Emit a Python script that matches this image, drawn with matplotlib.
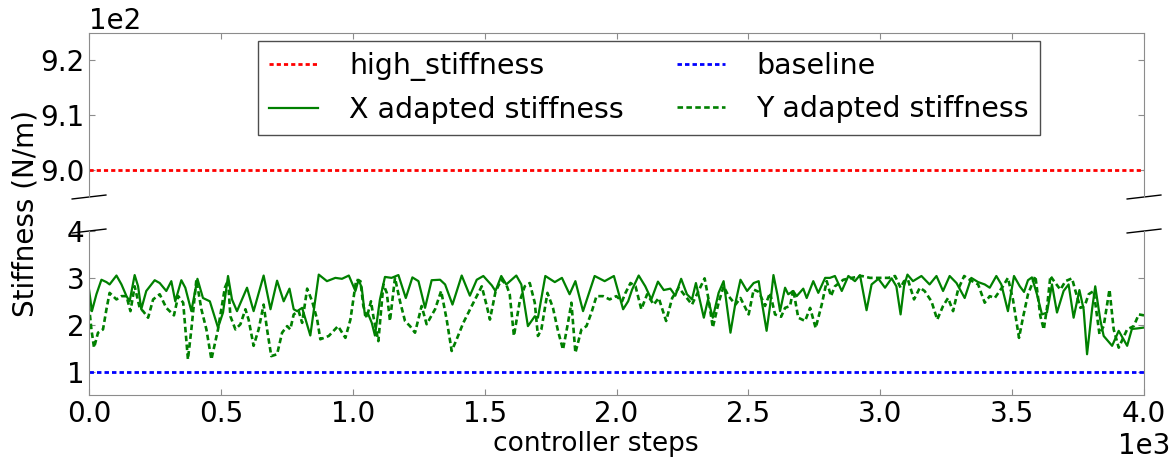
import numpy as np
import matplotlib
matplotlib.use('Agg')
import matplotlib.pyplot as plt
from matplotlib.ticker import MultipleLocator, ScalarFormatter

# stiffness values, in units of 1e2 N/m
steps_x = [0, 11, 28, 47, 66, 78, 104, 123, 142, 154, 173, 186, 198, 217, 249, 268, 293, 312, 327, 350,
           365, 388, 411, 432, 458, 489, 508, 527, 542, 561, 599, 624, 662, 688, 713, 738, 760, 776, 789, 808,
           839, 871, 902, 934, 959, 985, 1010, 1022, 1034, 1046, 1059, 1072, 1084, 1103, 1122, 1147, 1173, 1201,
           1226, 1249, 1274, 1299, 1331, 1350, 1378, 1413, 1444, 1470, 1495, 1527, 1541, 1563, 1582, 1620, 1639,
           1664, 1690, 1702, 1730, 1766, 1793, 1822, 1844, 1873, 1917, 1955, 1990, 2025, 2044, 2059, 2084, 2109,
           2132, 2157, 2179, 2204, 2223, 2245, 2267, 2286, 2301, 2314, 2331, 2347, 2365, 2387, 2406, 2432, 2451,
           2470, 2495, 2520, 2539, 2552, 2569, 2582, 2595, 2611, 2620, 2639, 2651, 2670, 2683, 2708, 2721, 2746,
           2765, 2791, 2809, 2828, 2854, 2879, 2904, 2923, 2948, 2967, 2993, 3018, 3043, 3061, 3077, 3090, 3103,
           3124, 3156, 3187, 3213, 3238, 3263, 3289, 3320, 3345, 3371, 3396, 3415, 3440, 3459, 3484, 3507, 3529,
           3545, 3560, 3575, 3594, 3613, 3632, 3651, 3670, 3695, 3714, 3733, 3755, 3771, 3784, 3803, 3815, 3834,
           3847, 3879, 3904, 3936, 3954, 3973, 4000]
stiff_x = [2.75, 2.29, 2.65, 2.96, 2.91, 2.86, 3.05, 2.86, 2.61, 2.5, 3.06, 2.82, 2.33, 2.72, 2.95, 2.89, 2.72,
           2.93, 2.5, 2.95, 2.79, 2.29, 2.98, 2.57, 2.5, 1.94, 2.26, 3.04, 2.54, 2.29, 2.79, 2.29, 3.05, 2.33,
           2.94, 2.5, 2.77, 2.33, 2.29, 2.36, 1.77, 3.07, 2.93, 3.0, 2.98, 3.05, 2.72, 2.96, 2.79, 2.2, 2.22,
           2.04, 1.77, 2.54, 3.02, 3.0, 3.06, 2.57, 3.01, 2.93, 2.36, 2.95, 2.96, 2.86, 2.43, 3.05, 2.62, 2.96,
           3.04, 2.84, 2.72, 3.04, 2.86, 3.05, 2.86, 1.97, 2.18, 2.15, 3.04, 2.91, 3.0, 2.65, 2.93, 2.29, 3.04,
           2.93, 3.04, 2.33, 2.5, 2.75, 3.05, 2.82, 2.54, 2.92, 2.74, 2.77, 2.62, 2.98, 2.65, 2.54, 2.89, 2.57,
           2.15, 2.54, 2.15, 2.68, 2.93, 1.83, 2.47, 2.96, 2.72, 2.89, 2.93, 2.45, 1.87, 2.4, 3.06, 2.61, 2.29,
           2.79, 2.65, 2.72, 2.61, 2.77, 2.57, 2.93, 2.68, 3.0, 3.0, 3.04, 2.72, 3.04, 2.93, 3.06, 2.31, 2.86,
           2.98, 2.79, 2.99, 2.82, 2.22, 2.82, 3.07, 2.93, 3.04, 2.86, 3.04, 2.72, 3.04, 2.89, 2.57, 3.0, 2.91,
           2.86, 2.79, 3.04, 2.86, 2.29, 3.04, 2.82, 2.7, 2.95, 3.01, 2.65, 2.22, 2.26, 2.86, 2.26, 2.72, 2.86,
           2.15, 2.74, 2.33, 1.37, 2.33, 2.82, 2.11, 1.76, 1.55, 1.87, 1.55, 1.91, 1.92, 1.94]

steps_y = [0, 9, 19, 34, 53, 66, 78, 104, 123, 142, 157, 173, 192, 205, 224, 243, 268, 293, 322, 338, 357,
           375, 388, 407, 426, 445, 464, 489, 515, 527, 536, 555, 574, 593, 605, 624, 643, 662, 675, 691, 713,
           732, 751, 763, 776, 795, 808, 827, 846, 865, 877, 909, 944, 972, 991, 1013, 1029, 1040, 1053, 1069,
           1078, 1097, 1116, 1129, 1141, 1160, 1179, 1198, 1217, 1236, 1261, 1280, 1312, 1335, 1356, 1375, 1394,
           1419, 1451, 1489, 1508, 1520, 1541, 1563, 1582, 1595, 1611, 1633, 1652, 1671, 1690, 1702, 1715, 1738,
           1759, 1778, 1797, 1816, 1829, 1844, 1867, 1886, 1905, 1924, 1949, 1974, 1999, 2021, 2034, 2053, 2072,
           2094, 2116, 2141, 2160, 2188, 2211, 2236, 2261, 2286, 2305, 2334, 2349, 2365, 2387, 2406, 2425, 2451,
           2470, 2501, 2520, 2540, 2563, 2582, 2601, 2624, 2639, 2658, 2670, 2689, 2715, 2734, 2755, 2778, 2797,
           2813, 2828, 2860, 2892, 2930, 2961, 2993, 3031, 3056, 3077, 3090, 3105, 3128, 3150, 3168, 3194, 3216,
           3238, 3257, 3276, 3295, 3318, 3339, 3371, 3396, 3415, 3434, 3465, 3484, 3503, 3526, 3541, 3560, 3588,
           3607, 3620, 3632, 3645, 3664, 3683, 3702, 3727, 3740, 3759, 3775, 3790, 3809, 3831, 3847, 3869, 3885,
           3904, 3936, 3961, 3980, 4000]
stiff_y = [2.4, 1.9, 1.51, 1.83, 1.9, 2.33, 2.68, 2.54, 2.61, 2.61, 2.29, 2.82, 2.36, 2.29, 2.15, 2.54, 2.65,
           2.36, 2.2, 2.61, 2.47, 1.26, 1.9, 2.96, 2.33, 1.9, 1.26, 1.9, 2.79, 2.95, 2.18, 1.9, 2.01, 2.33, 2.11,
           1.55, 1.9, 2.43, 1.9, 1.33, 1.37, 1.83, 1.97, 1.9, 2.22, 2.29, 2.04, 2.77, 2.5, 2.11, 1.69, 1.76, 1.97,
           1.72, 2.11, 2.96, 2.93, 2.4, 2.15, 2.5, 2.18, 1.65, 2.86, 2.68, 2.08, 3.0, 2.5, 2.08, 1.97, 1.83, 2.4,
           2.01, 2.33, 2.72, 2.11, 1.44, 1.69, 2.04, 2.4, 2.82, 2.4, 2.11, 2.7, 2.96, 2.86, 2.65, 1.76, 2.5, 2.82,
           2.89, 2.47, 1.76, 1.9, 2.68, 2.36, 1.87, 1.47, 2.04, 2.47, 1.4, 1.9, 1.97, 2.26, 2.61, 2.61, 2.54, 2.61,
           2.5, 2.68, 2.89, 2.82, 2.33, 2.65, 2.43, 2.57, 2.08, 2.57, 2.79, 2.61, 2.43, 2.65, 2.99, 2.54, 1.94,
           2.47, 2.82, 2.61, 2.43, 2.57, 2.22, 2.75, 2.7, 2.4, 2.68, 2.22, 2.17, 2.36, 2.4, 2.75, 2.15, 2.08, 2.36,
           1.93, 2.43, 2.93, 2.61, 2.82, 2.96, 3.0, 3.04, 3.0, 3.0, 3.0, 3.04, 2.79, 2.93, 2.96, 2.54, 2.79, 2.72,
           2.5, 2.11, 2.4, 2.57, 2.29, 2.75, 3.04, 2.96, 2.86, 2.47, 2.61, 2.57, 2.82, 3.0, 2.54, 1.72, 2.15, 2.65,
           3.04, 2.18, 1.9, 2.36, 3.04, 2.89, 2.75, 2.93, 2.99, 2.72, 2.36, 2.4, 2.65, 2.72, 1.8, 1.97, 2.75, 1.9,
           1.51, 1.9, 1.97, 2.22, 2.2]

high_stiffness = 900.0
baseline = 100.0

plt.rcParams['font.size'] = 20
plt.rcParams['lines.scale_dashes'] = False

fig = plt.figure(figsize=(11.73, 4.59), dpi=100)
ax_top = fig.add_axes([0.0759, 0.5708, 0.8994, 0.358])
ax_bot = fig.add_axes([0.0759, 0.1394, 0.8994, 0.3573], sharex=ax_top)

kx = np.array(stiff_x) * 100
ky = np.array(stiff_y) * 100

h_high = ax_top.axhline(high_stiffness, color='r', lw=2, dashes=(3, 2.2))
h_base = ax_bot.axhline(baseline, color='b', lw=2, dashes=(3.2, 2.2))
h_x, = ax_bot.plot(steps_x, kx, color='g', lw=1.6, solid_joinstyle='round')
h_y, = ax_bot.plot(steps_y, ky, color='g', lw=1.9, dashes=(4, 2.4), dash_joinstyle='round')

ax_top.set_ylim(895, 925)
ax_bot.set_ylim(50, 400)
ax_bot.set_xlim(0, 4000)

ax_top.yaxis.set_major_locator(MultipleLocator(10))
ax_bot.yaxis.set_major_locator(MultipleLocator(100))
ax_bot.xaxis.set_major_locator(MultipleLocator(500))

for ax in (ax_top, ax_bot):
    fmt = ScalarFormatter()
    fmt.set_powerlimits((2, 2))
    ax.yaxis.set_major_formatter(fmt)
    for s in ax.spines.values():
        s.set_color('0.55')
    ax.tick_params(direction='in', colors='0.55', labelcolor='k', length=4, labelsize=20,
                   left=True, right=True)

xfmt = ScalarFormatter()
xfmt.set_powerlimits((3, 3))
ax_bot.xaxis.set_major_formatter(xfmt)

ax_top.spines['bottom'].set_visible(False)
ax_bot.spines['top'].set_visible(False)
ax_top.tick_params(bottom=False, top=True, labelbottom=False)
ax_bot.tick_params(top=False, bottom=True)
ax_bot.yaxis.get_offset_text().set_visible(False)
ax_top.yaxis.get_offset_text().set_fontsize(20)
off_x = ax_bot.xaxis.get_offset_text()
off_x.set_fontsize(20)
off_x.set_horizontalalignment('center')

# break marks
d = 0.016
for ax, y in ((ax_top, 0), (ax_bot, 1)):
    kw = dict(transform=ax.transAxes, color='k', lw=1, clip_on=False)
    ax.plot((-d, d), (y - 0.012, y + 0.012), **kw)
    ax.plot((1 - d, 1 + d), (y - 0.012, y + 0.012), **kw)

ax_bot.set_xlabel('controller steps', fontsize=19)
ax_bot.xaxis.set_label_coords(0.48, -0.22)
fig.text(0.022, 0.534, 'Stiffness (N/m)', rotation=90, va='center', ha='center', fontsize=20)

leg = ax_top.legend([h_high, h_x, h_base, h_y],
                    ['high_stiffness', 'X adapted stiffness', 'baseline', 'Y adapted stiffness'],
                    loc='upper left', bbox_to_anchor=(0.160, 0.949), borderaxespad=0, ncol=2,
                    fontsize=20.5, handlelength=1.7, handletextpad=1.1, columnspacing=1.86,
                    fancybox=False, framealpha=1)
leg.get_frame().set_edgecolor('0.3')

fig.savefig('out.png', dpi=100)
